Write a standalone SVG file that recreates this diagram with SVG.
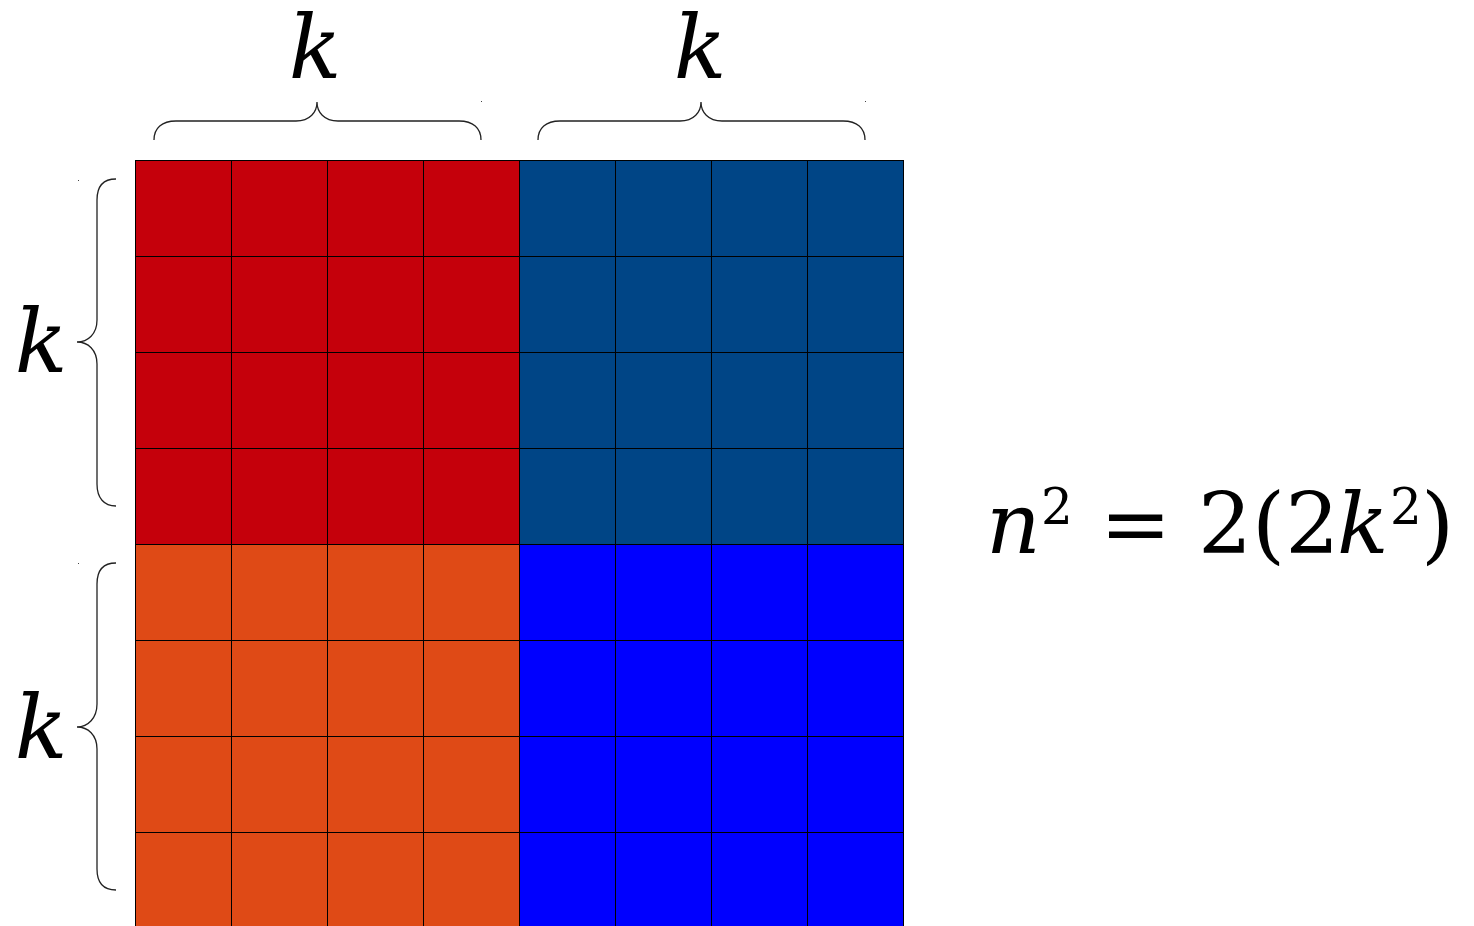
<svg xmlns="http://www.w3.org/2000/svg" width="1474" height="926" viewBox="0 0 1474 926">
<style>
.lbl{font-family:"DejaVu Serif","Liberation Serif",serif;font-style:italic;font-size:87px;fill:#000}
.eq{font-family:"DejaVu Serif","Liberation Serif",serif;font-size:85px;fill:#000}
.it{font-style:italic}
.brace{fill:none;stroke:#222;stroke-width:1.3}
.grid{stroke:#000;stroke-width:1;fill:none}
</style>
<rect width="1474" height="926" fill="#fff"/>
<g id="q-red"><rect x="135" y="160" width="384" height="384" fill="#C5000B"/></g>
<g id="q-darkblue"><rect x="519" y="160" width="384" height="384" fill="#004586"/></g>
<g id="q-orange"><rect x="135" y="544" width="384" height="384" fill="#DF4A16"/></g>
<g id="q-blue"><rect x="519" y="544" width="384" height="384" fill="#0000FF"/></g>
<g id="grid" class="grid">
<path d="M135.5,160V926M231.5,160V926M327.5,160V926M423.5,160V926M519.5,160V926M615.5,160V926M711.5,160V926M807.5,160V926M903.5,160V926"/>
<path d="M135,160.5H904M135,256.5H904M135,352.5H904M135,448.5H904M135,544.5H904M135,640.5H904M135,736.5H904M135,832.5H904"/>
</g>
<g id="connectors">
<path id="brace-top1" class="brace" d="M154,140 C154,128 162,121 176,121 L296,121 C310,121 317,112 317,102 C317,112 324,121 338,121 L459,121 C473,121 481,128 481,140"/>
<path id="brace-top2" class="brace" d="M538,140 C538,128 546,121 560,121 L680,121 C694,121 701,112 701,102 C701,112 708,121 722,121 L843,121 C857,121 865,128 865,140"/>
<path id="brace-left1" class="brace" d="M116,179 C104,179 97,186 97,200 L97,320 C97,334 88,342 77,342 C88,342 97,350 97,364 L97,484 C97,498 104,506 116,506"/>
<path id="brace-left2" class="brace" d="M116,563 C104,563 97,570 97,584 L97,704 C97,718 88,727 77,727 C88,727 97,735 97,749 L97,869 C97,883 104,890 116,890"/>
<rect x="481" y="101" width="1" height="1" fill="#444"/>
<rect x="865" y="101" width="1" height="1" fill="#444"/>
<rect x="78" y="180" width="1" height="1" fill="#444"/>
<rect x="78" y="563" width="1" height="1" fill="#444"/>
</g>
<g id="label-top1"><text class="lbl" x="315" y="78" text-anchor="middle">k</text></g>
<g id="label-top2"><text class="lbl" x="700" y="78" text-anchor="middle">k</text></g>
<g id="label-left1"><text class="lbl" x="41" y="372" text-anchor="middle">k</text></g>
<g id="label-left2"><text class="lbl" x="41" y="758" text-anchor="middle">k</text></g>
<g id="equation">
<text class="eq it" x="986" y="553">n</text>
<text class="eq" x="1041" y="524" style="font-size:50px">2</text>
<text class="eq" x="1100" y="553">=</text>
<text class="eq" x="1198" y="553">2(2</text>
<text class="eq it" x="1337" y="553">k</text>
<text class="eq" x="1390" y="524" style="font-size:50px">2</text>
<text class="eq" x="1421" y="553">)</text>
</g>
</svg>
